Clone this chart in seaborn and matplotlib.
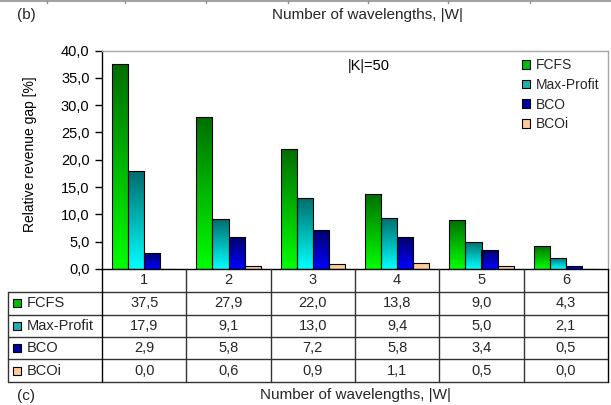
import numpy as np
import pandas as pd
import matplotlib
matplotlib.use("Agg")
import matplotlib.pyplot as plt
import seaborn as sns
from matplotlib.patches import Patch, Rectangle
from matplotlib.lines import Line2D
from matplotlib.colors import to_rgb
import matplotlib.transforms as mtransforms

# ---------------- data ----------------
categories = ["1", "2", "3", "4", "5", "6"]
methods = ["FCFS", "Max-Profit", "BCO", "BCOi"]
fcfs = [37.5, 27.9, 22.0, 13.8, 9.0, 4.3]
max_profit = [17.9, 9.1, 13.0, 9.4, 5.0, 2.1]
bco = [2.9, 5.8, 7.2, 5.8, 3.4, 0.5]
bcoi = [0.0, 0.6, 0.9, 1.1, 0.5, 0.0]
yticks = [0, 5, 10, 15, 20, 25, 30, 35, 40]

series = [fcfs, max_profit, bco, bcoi]
rows = []
for m, vals in zip(methods, series):
    for c, v in zip(categories, vals):
        rows.append({"W": c, "Method": m, "gap": v})
df = pd.DataFrame(rows)

# gradient colours (top, bottom) and legend swatch colours
grad = {
    "FCFS": ("#006e00", "#00ff00"),
    "Max-Profit": ("#006c6c", "#00ffff"),
    "BCO": ("#00006a", "#0000ff"),
    "BCOi": ("#ffcc99", "#ffcc99"),
}
swatch = {"FCFS": "#00c000", "Max-Profit": "#20b0b0", "BCO": "#0000a0", "BCOi": "#ffcc99"}

sns.set_theme(style="white")
plt.rcParams["font.family"] = ["Liberation Sans", "DejaVu Sans"]

W, H = 611, 405
fig = plt.figure(figsize=(W / 100, H / 100), dpi=100)
fig.patch.set_facecolor("white")
L, R, T, B = 102, 608, 50.5, 269
ax = fig.add_axes([L / W, 1 - B / H, (R - L) / W, (B - T) / H])

def fx(px):
    return px / W

def fy(py):
    return 1 - py / H

sns.barplot(data=df, x="W", y="gap", hue="Method", hue_order=methods,
            order=categories, palette=[swatch[m] for m in methods],
            width=0.76, saturation=1, edgecolor="black", linewidth=0.8,
            legend=False, ax=ax)

# gradient fill of each bar
for cont, m in zip(ax.containers, methods):
    top, bot = grad[m]
    ct, cb = np.array(to_rgb(top)), np.array(to_rgb(bot))
    for bar in cont:
        x0, w, h = bar.get_x(), bar.get_width(), bar.get_height()
        bar.set_facecolor("none")
        bar.set_zorder(3)
        if h <= 0:
            continue
        t = np.linspace(0, 1, 128)[:, None]
        img = ((1 - t) * ct + t * cb)[:, None, :]
        im = ax.imshow(img, extent=[x0, x0 + w, 0, h], origin="upper",
                       aspect="auto", interpolation="bilinear", zorder=2)
        im.set_clip_path(bar)

ax.set_xlim(-0.5, 5.5)
ax.set_ylim(0, 40)
ax.set_yticks(yticks)
ax.set_yticklabels([f"{v:.1f}".replace(".", ",") for v in yticks])
ax.tick_params(axis="y", direction="out", length=5, width=1, color="black",
               labelsize=10.5, pad=4, left=True, labelcolor="black")
ax.tick_params(axis="x", length=0, labelbottom=False)
ax.set_xlabel("")
ax.set_ylabel("")
for s in ["left", "bottom"]:
    ax.spines[s].set_color("black")
    ax.spines[s].set_linewidth(1)
for s in ["top", "right"]:
    ax.spines[s].set_color("#a8a8a8")
    ax.spines[s].set_linewidth(1)

fig.text(fx(30), fy(154), "Relative revenue gap [%]", rotation=90,
         ha="center", va="center", fontsize=10, color="black")
fig.text(fx(348), fy(66), "|K|=50", ha="left", va="center", fontsize=10.5, color="black")

# legend
handles = [Patch(facecolor=swatch[m], edgecolor="black", linewidth=0.8, label=m) for m in methods]
ax.legend(handles=handles, loc="upper left", bbox_to_anchor=(fx(522), fy(58)),
          bbox_transform=fig.transFigure, frameon=False, fontsize=10,
          handlelength=0.6, handleheight=0.6, handletextpad=0.4,
          labelspacing=0.42, borderpad=0, borderaxespad=0)

# ---------------- data table ----------------
bt = mtransforms.blended_transform_factory(ax.transData, fig.transFigure)
lc = "#333333"
row_lines = [292.3 + 22.35 * k for k in range(5)]
bottom = row_lines[-1]
for yl in row_lines:
    fig.add_artist(Line2D([fx(8), fx(608)], [fy(yl), fy(yl)], color=lc, lw=1))
fig.add_artist(Line2D([fx(8), fx(8)], [fy(row_lines[0]), fy(bottom)], color=lc, lw=1))
for i in range(len(categories) + 1):
    xb = i - 0.5
    fig.add_artist(Line2D([xb, xb], [fy(B), fy(bottom)], color=lc if 0 < i < len(categories) else "black",
                          lw=1, transform=bt))

for i, c in enumerate(categories):
    fig.text(i, fy(280.5), c, transform=bt, ha="center", va="center", fontsize=10.5)

for r, (m, vals) in enumerate(zip(methods, series)):
    yc = (row_lines[r] + row_lines[r + 1]) / 2
    fig.add_artist(Rectangle((fx(12.5), fy(yc + 4)), 8 / W, 8 / H, facecolor=swatch[m],
                             edgecolor="black", lw=0.8, transform=fig.transFigure))
    fig.text(fx(27), fy(yc), m, ha="left", va="center", fontsize=10.5)
    for i, v in enumerate(vals):
        fig.text(i, fy(yc), f"{v:.1f}".replace(".", ","), transform=bt,
                 ha="center", va="center", fontsize=10.5)

# surrounding text
fig.text(fx(17), fy(15), "(b)", ha="left", va="center", fontsize=11)
fig.text(fx(367), fy(15), "Number of wavelengths, |W|", ha="center", va="center", fontsize=11)
fig.text(fx(17), fy(396), "(c)", ha="left", va="center", fontsize=11)
fig.text(fx(355), fy(395), "Number of wavelengths, |W|", ha="center", va="center", fontsize=11)

# gray rule at the very top (from the panel above)
fig.add_artist(Line2D([0, 1], [fy(0.8), fy(0.8)], color="#909090", lw=1.2))
for xt in [47, 125, 206, 288, 368, 448, 530]:
    fig.add_artist(Line2D([fx(xt), fx(xt)], [fy(0.8), fy(3)], color="#909090", lw=1))

fig.savefig("out.png", dpi=100, facecolor="white")
